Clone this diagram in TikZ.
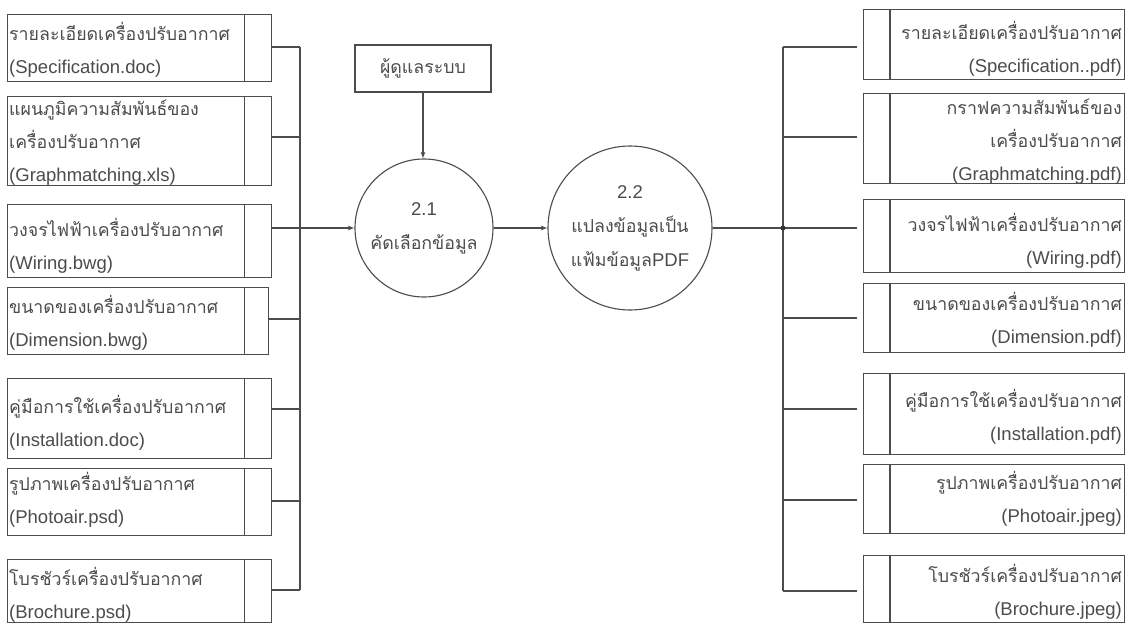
\documentclass[tikz,border=0pt]{standalone}
\usepackage{fontspec}
\setmainfont{Liberation Sans}
\newfontfamily\thai[Script=Thai,Scale=0.96]{Loma}
\usetikzlibrary{arrows.meta}
\begin{document}
\begin{tikzpicture}[x=1pt,y=-1pt,
  line/.style={draw=black!70, line width=1.1pt},
  store/.style={line, inner sep=0pt, anchor=north west},
  ltxt/.style={anchor=west, align=left, inner sep=0pt, text=black!70, font=\fontsize{18.5}{33}\selectfont},
  rtxt/.style={anchor=east, align=right, inner sep=0pt, text=black!70, font=\fontsize{18.5}{33}\selectfont},
  proc/.style={circle, line, inner sep=0pt, align=center, text=black!70, font=\fontsize{18.5}{34}\selectfont},
  arr/.style={-{Latex[length=6pt,width=5pt]}}
]
\useasboundingbox[fill=white] (0,0) rectangle (1128,626);

% ---------- left stores ----------
\node[store, minimum width=264pt, minimum height=67pt] (L1) at (7,14) {};
\node[store, minimum width=264pt, minimum height=89pt] (L2) at (7,96) {};
\node[store, minimum width=264pt, minimum height=73pt] (L3) at (7,204) {};
\node[store, minimum width=261pt, minimum height=67pt] (L4) at (7,287) {};
\node[store, minimum width=264pt, minimum height=80pt] (L5) at (7,378) {};
\node[store, minimum width=264pt, minimum height=67pt] (L6) at (7,468) {};
\node[store, minimum width=264pt, minimum height=63pt] (L7) at (7,559) {};
\foreach \b in {L1,L2,L3,L5,L6,L7}{
  \draw[line] ([xshift=-28pt]\b.north east) -- ([xshift=-28pt]\b.south east);
}
\draw[line] ([xshift=-25pt]L4.north east) -- ([xshift=-25pt]L4.south east);

\node[ltxt] (L1t) at (9,49.5) {{\thai รายละเอียดเครื่องปรับอากาศ}\\(Specification.doc)};
\node[ltxt] (L2t) at (9,143) {{\thai แผนภูมิความสัมพันธ์ของ}\\{\thai เครื่องปรับอากาศ}\\(Graphmatching.xls)};
\node[ltxt] (L3t) at (9,245.5) {{\thai วงจรไฟฟ้าเครื่องปรับอากาศ}\\(Wiring.bwg)};
\node[ltxt] (L4t) at (9,322.5) {{\thai ขนาดของเครื่องปรับอากาศ}\\(Dimension.bwg)};
\node[ltxt] (L5t) at (9,423) {{\thai คู่มือการใช้เครื่องปรับอากาศ}\\(Installation.doc)};
\node[ltxt] (L6t) at (9,499.5) {{\thai รูปภาพเครื่องปรับอากาศ}\\(Photoair.psd)};
\node[ltxt] (L7t) at (9,594.5) {{\thai โบรชัวร์เครื่องปรับอากาศ}\\(Brochure.psd)};

% ---------- right stores ----------
\node[store, minimum width=261pt, minimum height=70pt] (R1) at (863,9) {};
\node[store, minimum width=261pt, minimum height=90pt] (R2) at (863,93) {};
\node[store, minimum width=261pt, minimum height=73pt] (R3) at (863,199) {};
\node[store, minimum width=261pt, minimum height=69pt] (R4) at (863,283) {};
\node[store, minimum width=261pt, minimum height=81pt] (R5) at (863,373) {};
\node[store, minimum width=261pt, minimum height=69pt] (R6) at (863,464) {};
\node[store, minimum width=261pt, minimum height=67pt] (R7) at (863,555) {};
\foreach \b in {R1,R2,R3,R4,R5,R6,R7}{
  \draw[line] ([xshift=27pt]\b.north west) -- ([xshift=27pt]\b.south west);
}

\node[rtxt] (R1t) at (1122,49) {{\thai รายละเอียดเครื่องปรับอากาศ}\\(Specification..pdf)};
\node[rtxt] (R2t) at (1122,142) {{\thai กราฟความสัมพันธ์ของ}\\{\thai เครื่องปรับอากาศ}\\(Graphmatching.pdf)};
\node[rtxt] (R3t) at (1122,240.5) {{\thai วงจรไฟฟ้าเครื่องปรับอากาศ}\\(Wiring.pdf)};
\node[rtxt] (R4t) at (1122,320) {{\thai ขนาดของเครื่องปรับอากาศ}\\(Dimension.pdf)};
\node[rtxt] (R5t) at (1122,416.5) {{\thai คู่มือการใช้เครื่องปรับอากาศ}\\(Installation.pdf)};
\node[rtxt] (R6t) at (1122,498.5) {{\thai รูปภาพเครื่องปรับอากาศ}\\(Photoair.jpeg)};
\node[rtxt] (R7t) at (1122,591.5) {{\thai โบรชัวร์เครื่องปรับอากาศ}\\(Brochure.jpeg)};

% ---------- processes ----------
\node[line, minimum width=136pt, minimum height=47pt, text=black!70, font=\fontsize{18.5}{20}\selectfont\thai] (adm) at (423,68.5) {ผู้ดูแลระบบ};
\node[proc, minimum size=138pt] (c1) at (424,228) {2.1\\{\thai คัดเลือกข้อมูล}};
\node[proc, minimum size=164pt] (c2) at (630,228) {2.2\\{\thai แปลงข้อมูลเป็น}\\{\thai แฟ้มข้อมูล}PDF};

% ---------- buses ----------
\foreach \i/\y in {1/47,2/137,3/228,4/319,5/409,6/501,7/590}{
  \coordinate (lb\i) at (300,\y);
}
\foreach \i/\y in {1/47,2/137,3/228,4/318,5/409,6/500,7/591}{
  \coordinate (rb\i) at (783,\y);
  \coordinate (re\i) at (857,\y);
}
\draw[line] (lb1) -- (lb7);
\draw[line] (rb1) -- (rb7);
\foreach \i in {1,...,7}{
  \draw[line] (L\i.east |- lb\i) -- (lb\i);
  \draw[line] (rb\i) -- (re\i);
}

% ---------- flows ----------
\draw[line, arr] (lb3) -- (c1);
\draw[line, arr] (adm.south) -- (adm.south |- c1.north);
\draw[line, arr] (c1) -- (c2);
\draw[line] (c2) -- (rb3);
\fill[black!80] (rb3) circle (2.5pt);
\end{tikzpicture}
\end{document}
